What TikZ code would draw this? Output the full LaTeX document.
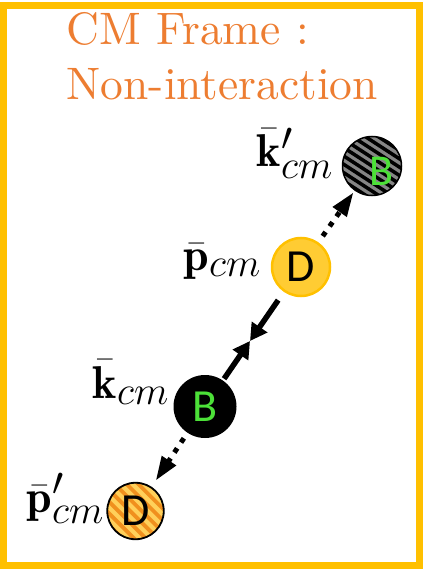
\RequirePackage{fix-cm}
\documentclass[tikz,border=0pt]{standalone}
\usepackage{amsmath}
\usepackage{fontspec}
\newfontfamily\carlito{Carlito}
\newfontfamily\lmten{lmroman10-regular.otf}
\DeclareMathSizes{46}{46}{40}{30}
\usetikzlibrary{arrows.meta}
\definecolor{gold}{HTML}{FFC000}
\definecolor{titleorange}{HTML}{ED7D31}
\definecolor{dfill}{HTML}{FFCC33}
\definecolor{bgreen}{RGB}{76,224,56}
\definecolor{hatchgray}{HTML}{858585}
\definecolor{lightorange}{HTML}{FFD05A}
\definecolor{stripeorange}{HTML}{F0901E}
\begin{document}
\begin{tikzpicture}[x=1pt,y=-1pt,
  particle/.style={circle, inner sep=0pt, font=\carlito\fontsize{46}{46}\selectfont},
  titletext/.style={anchor=base west, inner sep=0pt, text=titleorange, font=\lmten\fontsize{45.5}{45.5}\selectfont},
  mlabel/.style={anchor=base east, inner sep=0pt, font=\fontsize{46}{46}\selectfont},
  solidarrow/.style={line width=5.5pt, -{Triangle[length=17pt,width=18pt]}},
  dotarrow/.style={line width=5pt, dash pattern=on 5pt off 7pt, -{Triangle[length=24pt,width=16pt]}},
  grayhatch/.style={fill=hatchgray, path picture={
      \foreach \i in {-5,...,5}
        \draw[black, line width=3.5pt, shift={(path picture bounding box.center)}]
          ({-45*cos(33)-\i*7*sin(33)}, {-45*sin(33)+\i*7*cos(33)}) --
          ({45*cos(33)-\i*7*sin(33)}, {45*sin(33)+\i*7*cos(33)});}},
  orangehatch/.style={fill=lightorange, path picture={
      \foreach \i in {-5,...,5}
        \draw[stripeorange, line width=3.8pt, shift={(path picture bounding box.center)}]
          ({-45*cos(45)-\i*8.3*sin(45)}, {-45*sin(45)+\i*8.3*cos(45)}) --
          ({45*cos(45)-\i*8.3*sin(45)}, {45*sin(45)+\i*8.3*cos(45)});}},
]
\useasboundingbox (0,0) rectangle (423,569);
\draw[gold, line width=7pt] (3.5,6) rectangle (419.5,565.5);
\node[titletext] (t1) at (66.5,45) {CM Frame :};
\node[titletext] (t2) at (66.5,100) {Non-interaction};

\node[particle, minimum size=59pt, grayhatch, draw=black, line width=1.5pt,
  label={[text=bgreen, inner sep=0pt, font=\carlito\fontsize{44}{44}\selectfont, xshift=9pt, yshift=-5pt]center:B}] (Bp) at (372,166) {};
\node[particle, minimum size=58pt, draw=gold, line width=2.5pt, fill=dfill] (D) at (301,267) {D};
\node[particle, minimum size=63pt, fill=black, text=bgreen] (B) at (205,406.5) {B};
\node[particle, minimum size=56.5pt, orangehatch, draw=black, line width=1.8pt] (Dp) at (135.5,511) {D};

\node[mlabel] (lkp) at (333,167) {$\bar{\mathbf{k}}'_{cm}$};
\node[mlabel] (lp) at (261,270) {$\bar{\mathbf{p}}_{cm}$};
\node[mlabel] (lk) at (169,398) {$\bar{\mathbf{k}}_{cm}$};
\node[mlabel] (lpp) at (104,512) {$\bar{\mathbf{p}}'_{cm}$};

\coordinate (meet) at (250,341);
\draw[solidarrow, shorten <=10pt] (D) -- (meet);
\draw[solidarrow, shorten <=2pt] (B) -- (meet);
\draw[dotarrow, shorten <=7.5pt, shorten >=2pt] (D) -- (Bp);
\draw[dotarrow, shorten <=6.5pt, shorten >=7.4pt] (B) -- (Dp);
\end{tikzpicture}
\end{document}
